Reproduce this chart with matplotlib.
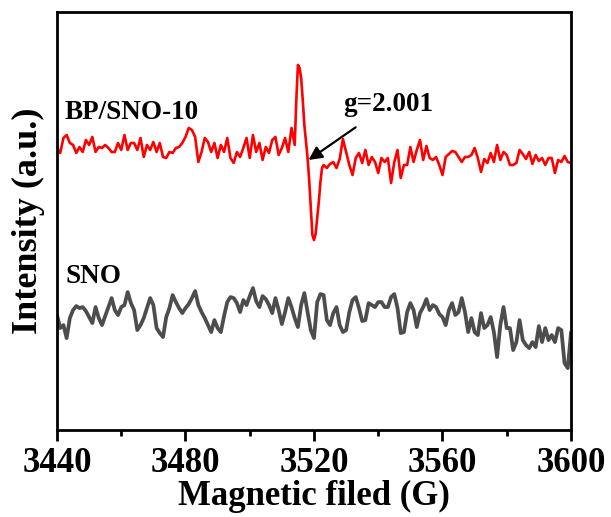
import numpy as np
import matplotlib.pyplot as plt

plt.rcParams['font.family'] = ['Liberation Serif', 'DejaVu Serif']
plt.rcParams['font.weight'] = 'bold'

# BP/SNO-10 (red): 1 G steps, finer around the g=2.001 signal
bp_field = (list(range(3440, 3515))
            + [3514.5, 3515, 3515.5, 3516, 3516.5, 3517, 3517.5, 3518, 3518.5,
               3519, 3519.5, 3520, 3520.5, 3521, 3521.5, 3522, 3522.5, 3523]
            + list(range(3524, 3601)))
bp_signal = [282, 277, 292, 295, 287, 285, 277, 283, 278, 290,
             285, 293, 278, 283, 282, 285, 282, 278, 278, 287,
             280, 295, 280, 287, 287, 280, 292, 273, 285, 280,
             288, 278, 287, 273, 272, 278, 277, 282, 283, 287,
             293, 302, 300, 293, 268, 278, 292, 288, 278, 287,
             272, 285, 278, 292, 272, 267, 278, 273, 282, 292,
             272, 295, 278, 287, 270, 283, 277, 290, 293, 275,
             282, 292, 278, 302,
             285,
             330, 365, 362, 352, 330, 305, 288, 272, 250,
             223, 195, 190, 196, 212, 228, 248, 262, 265,
             262, 266, 268, 262, 271, 291, 278, 265, 255, 272,
             277, 267, 280, 265, 273, 268, 257, 272, 268, 272,
             247, 268, 280, 252, 265, 265, 283, 268, 280, 290,
             270, 284, 272, 270, 273, 265, 255, 273, 276, 279,
             278, 273, 268, 273, 273, 275, 282, 272, 258, 271,
             267, 277, 268, 285, 270, 278, 275, 265, 265, 267,
             280, 276, 271, 278, 266, 275, 269, 272, 265, 272,
             272, 257, 270, 268, 274, 268, 267]

# SNO (grey): 1 G steps
sno_field = list(range(3440, 3601))
sno_signal = [115, 102, 105, 92, 112, 120, 124, 122, 123, 119,
              113, 107, 123, 112, 105, 114, 123, 132, 120, 115,
              123, 125, 138, 127, 120, 100, 105, 112, 122, 132,
              125, 102, 97, 93, 113, 122, 135, 128, 122, 117,
              122, 126, 132, 139, 125, 118, 112, 105, 98, 110,
              102, 98, 114, 128, 133, 132, 127, 118, 130, 125,
              134, 142, 129, 123, 134, 131, 125, 117, 132, 120,
              106, 118, 132, 123, 112, 103, 125, 137, 118, 100,
              92, 128, 136, 135,
              110, 105, 117, 123, 105, 98, 100, 118, 130, 133,
              122, 109, 110, 127, 125, 123, 128, 128, 123, 123,
              133, 136, 122, 97, 98, 118, 127, 120, 103, 117,
              123, 131, 120, 125, 123, 116, 113, 105, 120, 127,
              115, 118, 132, 118, 98, 112, 98, 95, 117, 102,
              105, 113, 98, 73, 105, 123, 102, 102, 80, 88,
              110, 90, 85, 82, 88, 83, 104, 88, 102, 90,
              95, 88, 102, 100, 67, 62, 97]

fig = plt.figure(figsize=(6.11, 5.17), dpi=100)
ax = fig.add_axes([0.0933, 0.168, 0.8412, 0.809])

ax.plot(bp_field, bp_signal, color='#ff0000', lw=1.9, solid_joinstyle='round')
ax.plot(sno_field, sno_signal, color='#4d4d4d', lw=2.7, solid_joinstyle='round')

ax.set_xlim(3440, 3600)
ax.set_ylim(0, 418)
ax.set_xticks([3440, 3480, 3520, 3560, 3600])
ax.set_xticks([3460, 3500, 3540, 3580], minor=True)
ax.set_yticks([])
ax.tick_params(axis='x', which='major', direction='out', length=8, width=2,
               labelsize=25, pad=4)
ax.tick_params(axis='x', which='minor', direction='out', length=4, width=2)
for s in ax.spines.values():
    s.set_linewidth(2)

ax.set_xlabel('Magnetic filed (G)', fontsize=25, fontweight='bold', labelpad=0)
ax.set_ylabel('Intensity (a.u.)', fontsize=26, fontweight='bold', labelpad=9)

ax.text(3442.5, 317, 'BP/SNO-10', fontsize=19.5, fontweight='bold', va='center')
ax.text(3442.5, 154, 'SNO', fontsize=19.5, fontweight='bold', va='center')
ax.annotate('g=2.001', xy=(3518.3, 270), xytext=(3529, 325),
            fontsize=19.5, fontweight='bold', va='center', ha='left',
            arrowprops=dict(arrowstyle='-|>', color='black', lw=1.6,
                            mutation_scale=20, shrinkA=9, shrinkB=0))

fig.savefig('out.png', dpi=100)
